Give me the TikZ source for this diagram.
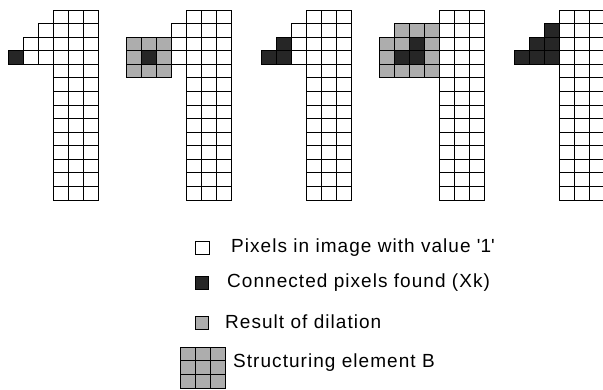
\documentclass[tikz,border=0pt]{standalone}
\usepackage{fontspec}
\setmainfont{Liberation Sans}
\newfontfamily\legendfont[LetterSpace=5.5]{Liberation Sans}

\tikzset{
  pix/.style={draw=black, fill=white, line width=0.9pt},
  blk/.style={pix, fill=black!85},
  gry/.style={pix, fill=black!32},
  lbl/.style={anchor=west, inner sep=0pt, font=\legendfont\fontsize{19}{22}\selectfont}
}

% white pixels of the digit one, in cell units
\newcommand{\digitone}{%
  \foreach \r in {0,...,13}
    \foreach \c in {3,4,5}
      \draw[pix] (\c,\r) rectangle ++(1,1);
  \draw[pix] (2,1) rectangle ++(1,1);
  \foreach \c in {1,2} \draw[pix] (\c,2) rectangle ++(1,1);
  \foreach \c in {0,1,2} \draw[pix] (\c,3) rectangle ++(1,1);
}

\begin{document}
\begin{tikzpicture}[x=1pt,y=-1pt]
\useasboundingbox (0,0) rectangle (603,390);

% step 1
\begin{scope}[shift={(8pt,-10pt)},x=15pt,y=-13.57pt]
\digitone
\draw[blk] (0,3) rectangle ++(1,1);
\end{scope}

% step 2
\begin{scope}[shift={(141pt,-10pt)},x=15pt,y=-13.57pt]
\digitone
\foreach \r in {2,3,4}
  \foreach \c in {-1,0,1}
    \draw[gry] (\c,\r) rectangle ++(1,1);
\draw[blk] (0,3) rectangle ++(1,1);
\end{scope}

% step 3
\begin{scope}[shift={(261pt,-10pt)},x=15pt,y=-13.57pt]
\digitone
\foreach \c/\r in {1/2,0/3,1/3}
  \draw[blk] (\c,\r) rectangle ++(1,1);
\end{scope}

% step 4
\begin{scope}[shift={(394pt,-10pt)},x=15pt,y=-13.57pt]
\digitone
\foreach \c in {0,1,2} \draw[gry] (\c,1) rectangle ++(1,1);
\foreach \r in {2,3,4}
  \foreach \c in {-1,0,1,2}
    \draw[gry] (\c,\r) rectangle ++(1,1);
\foreach \c/\r in {1/2,0/3,1/3}
  \draw[blk] (\c,\r) rectangle ++(1,1);
\end{scope}

% step 5
\begin{scope}[shift={(514pt,-10pt)},x=15pt,y=-13.57pt]
\digitone
\foreach \c/\r in {2/1,1/2,2/2,0/3,1/3,2/3}
  \draw[blk] (\c,\r) rectangle ++(1,1);
\end{scope}

% legend
\draw[pix] (195,241) rectangle (209,254);
\draw[blk] (195,276) rectangle (208,289);
\draw[gry] (195,316) rectangle (208,329);
\begin{scope}[shift={(180pt,-347pt)},x=15pt,y=-13.7pt]
\foreach \r in {0,1,2}
  \foreach \c in {0,1,2}
    \draw[gry] (\c,\r) rectangle ++(1,1);
\end{scope}

\node[lbl] (ones) at (231,248) {Pixels in image with value \textquotesingle 1\textquotesingle};
\node[lbl] (found) at (227,283) {Connected pixels found (Xk)};
\node[lbl] (dilation) at (225,322) {Result of dilation};
\node[lbl] (selem) at (233,363) {Structuring element B};

\end{tikzpicture}
\end{document}
